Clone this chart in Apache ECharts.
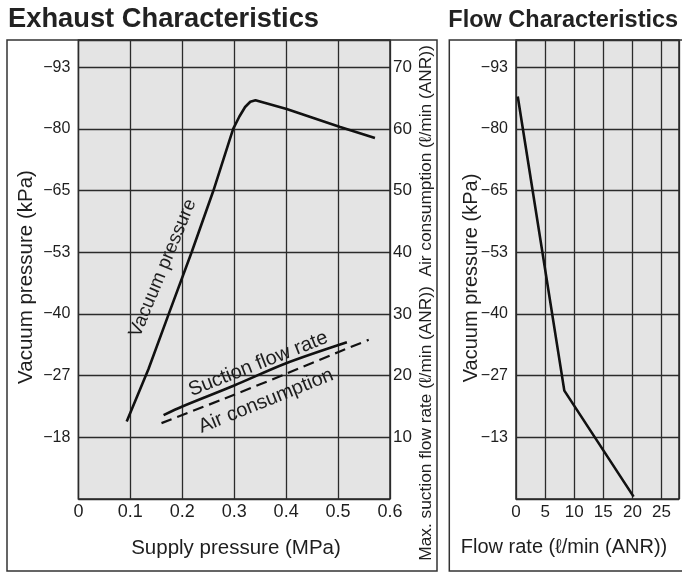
<!DOCTYPE html>
<html>
<head>
<meta charset="utf-8">
<script src="https://cdn.jsdelivr.net/npm/echarts@6/dist/echarts.min.js"></script>
<style>
html,body{margin:0;padding:0;background:#fff;}
#chart{width:682px;height:574px;}
</style>
</head>
<body>
<div id="chart"></div>
<script>
// ---- Exhaust characteristics (left panel) ----
// Vacuum pressure curve: supply pressure (MPa) vs vacuum pressure (kPa)
const exhaustSupplyMPa = [0.093, 0.135, 0.174, 0.218, 0.260, 0.298, 0.310, 0.321, 0.331, 0.341, 0.401, 0.504, 0.571];
const exhaustVacuumKPa = [-20.3, -28.4, -40.0, -53.0, -65.0, -80.0, -82.6, -84.6, -85.7, -86.0, -84.2, -80.4, -77.8];
// Max. suction flow rate (l/min ANR) vs supply pressure
const suctionSupplyMPa = [0.164, 0.200, 0.300, 0.400, 0.517];
const suctionFlowLmin = [13.6, 15.0, 18.4, 22.0, 25.4];
// Air consumption (l/min ANR) vs supply pressure
const airSupplyMPa = [0.160, 0.300, 0.400, 0.500, 0.559];
const airConsumptionLmin = [12.3, 16.9, 20.3, 23.8, 25.8];

// Tick labels
const supplyTicks = [0, 0.1, 0.2, 0.3, 0.4, 0.5, 0.6];
const flowAxisTicks = [10, 20, 30, 40, 50, 60, 70];            // right axis of left panel (l/min)
const exhaustKPaTicks = [-18, -27, -40, -53, -65, -80, -93];   // left axis of left panel, aligned with flowAxisTicks

// ---- Flow characteristics (right panel) ----
const flowRateLmin = [0.3, 8.3, 20.2];
const flowVacuumKPa = [-86.8, -23.6, -0.5];
const flowRateTicks = [0, 5, 10, 15, 20, 25];
const flowKPaTicks = [-13, -27, -40, -53, -65, -80, -93];      // aligned with flowAxisTicks grid lines

const FONT = '"Liberation Sans", Arial, Helvetica, sans-serif';
const INK = '#1e1e1e';

// piecewise-linear mapping of the (non-linear) kPa labelling onto the grid lines
function kpaToGrid(kpa, kpaTicks, gridTicks) {
  const k = kpaTicks, g = gridTicks;
  for (let i = 0; i < k.length - 1; i++) {
    const a = k[i], b = k[i + 1];
    if ((kpa <= a && kpa >= b) || i === k.length - 2 || (i === 0 && kpa > a)) {
      return g[i] + (kpa - a) / (b - a) * (g[i + 1] - g[i]);
    }
  }
}
const leftKTicks = exhaustKPaTicks, leftGTicks = flowAxisTicks;
const rightKTicks = [0].concat(flowKPaTicks), rightGTicks = [0].concat(flowAxisTicks);

const vacuumData = exhaustSupplyMPa.map((x, i) => [x, kpaToGrid(exhaustVacuumKPa[i], leftKTicks, leftGTicks)]);
const suctionData = suctionSupplyMPa.map((x, i) => [x, suctionFlowLmin[i]]);
const airData = airSupplyMPa.map((x, i) => [x, airConsumptionLmin[i]]);
const flowData = flowRateLmin.map((x, i) => [x, kpaToGrid(flowVacuumKPa[i], rightKTicks, rightGTicks)]);

const YMAX = 74.4;
const gridLine = { show: true, lineStyle: { color: '#2b2b2b', width: 1.3 } };

function kpaLabel(ticks) {
  return function (v) {
    const i = flowAxisTicks.findIndex(t => Math.abs(t - v) < 1e-6);
    return i >= 0 ? '\u2212' + Math.abs(ticks[i]) : '';
  };
}

const chart = echarts.init(document.getElementById('chart'), null, { renderer: 'canvas' });
const option = {
  animation: false,
  backgroundColor: '#ffffff',
  textStyle: { fontFamily: FONT },
  grid: [
    { left: 78.4, top: 40, width: 311.6, height: 459, show: true, backgroundColor: '#e4e4e4', borderColor: '#262626', borderWidth: 1.5 },
    { left: 516, top: 40, right: 0, height: 459, show: true, backgroundColor: '#e4e4e4', borderColor: '#262626', borderWidth: 1.5 }
  ],
  xAxis: [
    {
      gridIndex: 0, type: 'value', min: 0, max: 0.6, interval: 0.1,
      axisLine: { show: false }, axisTick: { show: false }, splitLine: gridLine,
      axisLabel: {
        fontSize: 18, color: INK, fontFamily: FONT, margin: 4,
        formatter: v => { const i = supplyTicks.findIndex(t => Math.abs(t - v) < 1e-6); return i < 0 ? '' : (supplyTicks[i] === 0 ? '0' : supplyTicks[i].toFixed(1)); }
      }
    },
    {
      gridIndex: 1, type: 'value', min: 0, max: 28, interval: 5,
      axisLine: { show: false }, axisTick: { show: false }, splitLine: gridLine,
      axisLabel: {
        fontSize: 17, color: INK, fontFamily: FONT, margin: 5,
        formatter: v => flowRateTicks.indexOf(v) >= 0 ? String(v) : ''
      }
    }
  ],
  yAxis: [
    {
      gridIndex: 0, type: 'value', position: 'left', min: 0, max: YMAX, interval: 10,
      axisLine: { show: false }, axisTick: { show: false }, splitLine: gridLine,
      axisLabel: { fontSize: 16, color: INK, fontFamily: FONT, margin: 8, formatter: kpaLabel(exhaustKPaTicks) }
    },
    {
      gridIndex: 0, type: 'value', position: 'right', min: 0, max: YMAX, interval: 10,
      axisLine: { show: false }, axisTick: { show: false }, splitLine: { show: false },
      axisLabel: {
        fontSize: 17, color: INK, fontFamily: FONT, margin: 3,
        formatter: v => flowAxisTicks.findIndex(t => Math.abs(t - v) < 1e-6) >= 0 ? String(Math.round(v)) : ''
      }
    },
    {
      gridIndex: 1, type: 'value', position: 'left', min: 0, max: YMAX, interval: 10,
      axisLine: { show: false }, axisTick: { show: false }, splitLine: gridLine,
      axisLabel: { fontSize: 16, color: INK, fontFamily: FONT, margin: 8, formatter: kpaLabel(flowKPaTicks) }
    }
  ],
  series: [
    { name: 'Vacuum pressure', type: 'line', xAxisIndex: 0, yAxisIndex: 0, data: vacuumData, symbol: 'none',
      lineStyle: { color: '#111', width: 2.6 }, z: 5 },
    { name: 'Suction flow rate', type: 'line', xAxisIndex: 0, yAxisIndex: 1, data: suctionData, symbol: 'none', smooth: 0.3,
      lineStyle: { color: '#111', width: 2.6 }, z: 5 },
    { name: 'Air consumption', type: 'line', xAxisIndex: 0, yAxisIndex: 1, data: airData, symbol: 'none', smooth: 0.3,
      lineStyle: { color: '#111', width: 2.2, type: [11, 6] }, z: 5 },
    { name: 'Flow characteristics', type: 'line', xAxisIndex: 1, yAxisIndex: 2, data: flowData, symbol: 'none',
      lineStyle: { color: '#111', width: 2.6 }, z: 5 }
  ],
  graphic: [
    { type: 'rect', z: 50, shape: { x: 7, y: 40, width: 430, height: 531 }, style: { fill: 'none', stroke: '#333', lineWidth: 1.5 } },
    { type: 'rect', z: 50, shape: { x: 449.3, y: 40, width: 240, height: 531 }, style: { fill: 'none', stroke: '#333', lineWidth: 1.5 } },
    { type: 'text', z: 50, x: 8, y: 19.5, style: { text: 'Exhaust Characteristics', fontSize: 27.3, fontWeight: 'bold', fontFamily: FONT, fill: '#222', align: 'left', verticalAlign: 'middle' } },
    { type: 'text', z: 50, x: 448.3, y: 21, style: { text: 'Flow Characteristics', fontSize: 23.5, fontWeight: 'bold', fontFamily: FONT, fill: '#222', align: 'left', verticalAlign: 'middle' } },
    { type: 'text', z: 50, x: 26, y: 277, rotation: Math.PI / 2, style: { text: 'Vacuum pressure (kPa)', fontSize: 20.5, fontFamily: FONT, fill: INK, align: 'center', verticalAlign: 'middle' } },
    { type: 'text', z: 50, x: 471, y: 278, rotation: Math.PI / 2, style: { text: 'Vacuum pressure (kPa)', fontSize: 20, fontFamily: FONT, fill: INK, align: 'center', verticalAlign: 'middle' } },
    { type: 'text', z: 50, x: 236, y: 548, style: { text: 'Supply pressure (MPa)', fontSize: 20.5, fontFamily: FONT, fill: INK, align: 'center', verticalAlign: 'middle' } },
    { type: 'text', z: 50, x: 564, y: 547, style: { text: 'Flow rate (\u2113/min (ANR))', fontSize: 20, fontFamily: FONT, fill: INK, align: 'center', verticalAlign: 'middle' } },
    { type: 'text', z: 50, x: 426, y: 303, rotation: Math.PI / 2, style: { text: 'Max. suction flow rate (\u2113/min (ANR))  Air consumption (\u2113/min (ANR))', fontSize: 17.3, fontFamily: FONT, fill: INK, align: 'center', verticalAlign: 'middle' } },
    { type: 'text', z: 50, x: 163, y: 268, rotation: 67.5 * Math.PI / 180, style: { text: 'Vacuum pressure', fontSize: 19, fontFamily: FONT, fill: INK, align: 'center', verticalAlign: 'middle' } },
    { type: 'text', z: 50, x: 258.3, y: 364, rotation: 21.5 * Math.PI / 180, style: { text: 'Suction flow rate', fontSize: 20, fontFamily: FONT, fill: INK, align: 'center', verticalAlign: 'middle' } },
    { type: 'text', z: 50, x: 266, y: 401, rotation: 22 * Math.PI / 180, style: { text: 'Air consumption', fontSize: 20, fontFamily: FONT, fill: INK, align: 'center', verticalAlign: 'middle' } }
  ]
};
chart.setOption(option);
</script>
</body>
</html>
